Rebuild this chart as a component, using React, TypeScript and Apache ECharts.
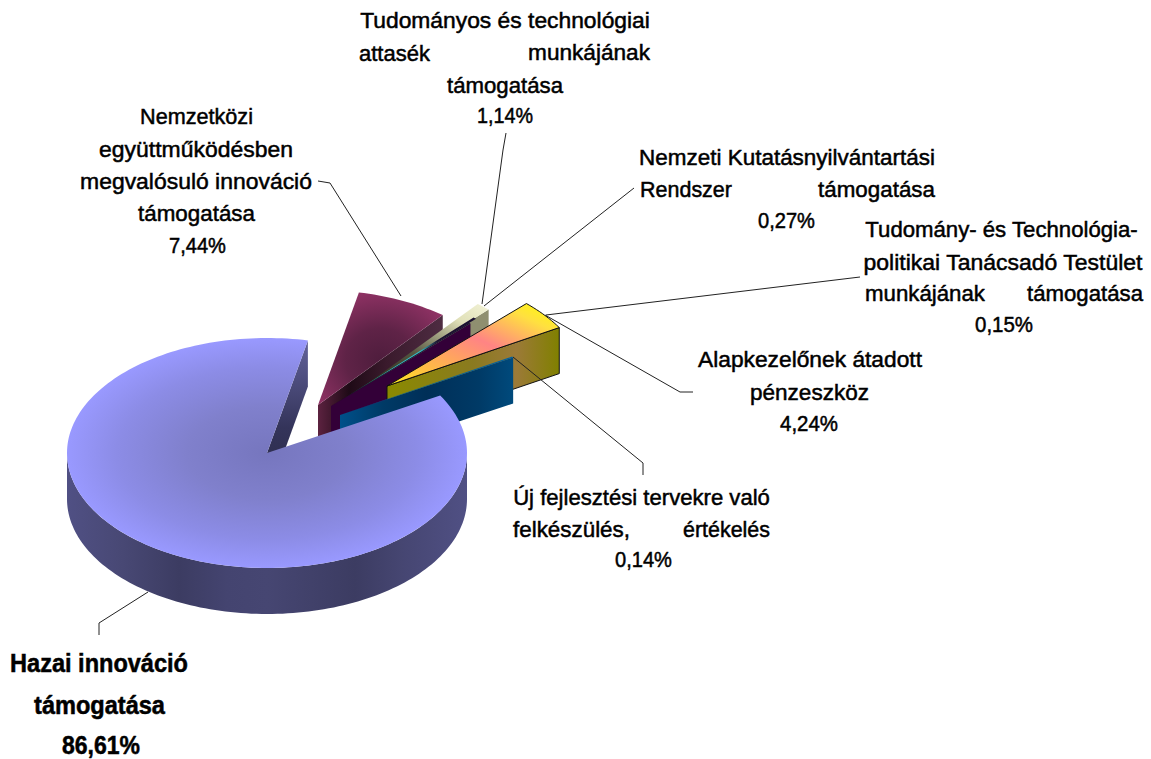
import React, { useEffect, useRef } from "react";
import * as echarts from "echarts";

const categories = [
  "Nemzetközi együttműködésben megvalósuló innováció támogatása",
  "Tudományos és technológiai attasék munkájának támogatása",
  "Nemzeti Kutatásnyilvántartási Rendszer támogatása",
  "Tudomány- és Technológia-politikai Tanácsadó Testület munkájának támogatása",
  "Alapkezelőnek átadott pénzeszköz",
  "Új fejlesztési tervekre való felkészülés, értékelés",
  "Hazai innováció támogatása",
];
const shares = [7.44, 1.14, 0.27, 0.15, 4.24, 0.14, 86.61];
const labelLines = [
  ["Nemzetközi", "együttműködésben", "megvalósuló innováció", "támogatása", "7,44%"],
  ["Tudományos és technológiai", "attasék munkájának", "támogatása", "1,14%"],
  ["Nemzeti Kutatásnyilvántartási", "Rendszer támogatása", "0,27%"],
  ["Tudomány- és Technológia-", "politikai Tanácsadó Testület", "munkájának támogatása", "0,15%"],
  ["Alapkezelőnek átadott", "pénzeszköz", "4,24%"],
  ["Új fejlesztési tervekre való", "felkészülés, értékelés", "0,14%"],
  ["Hazai innováció", "támogatása", "86,61%"],
];

// layout
const CX = 267, CY = 453, RX = 200, RY = 115, DEPTH = 46;
const START_DEG = 11.8;
const explode = [[51, -48], [86, -59], [71, -51], [64, -47], [120, -67], [73, -38], [0, 0]];

const lg = (x: number, y: number, x2: number, y2: number, stops: [number, string][]) => ({
  type: "linear", x, y, x2, y2, global: false,
  colorStops: stops.map(([offset, color]) => ({ offset, color })),
});
const rg = (x: number, y: number, r: number, stops: [number, string][]) => ({
  type: "radial", x, y, r, global: false,
  colorStops: stops.map(([offset, color]) => ({ offset, color })),
});

const topFill: any[] = [
  rg(0.5, 0.6, 0.62, [[0, "#4f1d3d"], [0.45, "#5f2347"], [1, "#8f3264"]]),
  lg(0, 1, 1, 0, [[0, "#1a1a10"], [0.45, "#55553f"], [0.8, "#e0e0b8"], [1, "#f2f2d6"]]),
  lg(0, 1, 1, 0, [[0, "#1a1a10"], [0.4, "#33bcc4"], [0.6, "#33bcc4"], [0.72, "#1a1030"], [1, "#1a1030"]]),
  "#1a1030",
  lg(0, 1, 1, 0, [[0, "#ffee22"], [0.2, "#ffc040"], [0.55, "#ff8484"], [0.82, "#ffe040"], [1, "#ffff00"]]),
  "#0060a0",
  rg(0.5, 0.5, 0.5, [[0, "#7676be"], [0.4, "#8080cc"], [0.75, "#8c8ce6"], [1, "#9999ff"]]),
];
const endWallFill: any[] = [
  lg(0, 0, 1, 0, [[0, "#5c2240"], [0.25, "#1e0a16"], [0.55, "#3a1a2c"], [1, "#4e2c42"]]),
  "#8f8f70",
  "none",
  "#330038",
  lg(0, 0, 1, 0, [[0, "#8a8a00"], [0.5, "#8a7a20"], [0.75, "#9c7a38"], [1, "#808000"]]),
  lg(0, 0, 1, 0, [[0, "#00508a"], [0.25, "#003a66"], [0.5, "#002f58"], [0.8, "#003a66"], [1, "#004a7c"]]),
  "none",
];
const outlined = [false, false, false, false, true, false, false];

const total = shares.reduce((a, b) => a + b, 0);

function renderSlice(params: any, api: any) {
  const i = params.dataIndex;
  let before = 0;
  for (let k = 0; k < i; k++) before += shares[k];
  const value = api.value(0) as number;
  const a0 = START_DEG + (before / total) * 360;
  const a1 = a0 + (value / total) * 360;
  const [dx, dy] = explode[i];
  const cx = CX + dx, cy = CY + dy;
  const pt = (deg: number, depth = 0): number[] => {
    const r = (deg * Math.PI) / 180;
    return [cx + RX * Math.sin(r), cy - RY * Math.cos(r) + depth];
  };
  const arc = (from: number, to: number, depth = 0) => {
    const out: number[][] = [];
    const n = Math.max(2, Math.ceil((to - from) / 1.5));
    for (let k = 0; k <= n; k++) out.push(pt(from + ((to - from) * k) / n, depth));
    return out;
  };
  const children: any[] = [];
  const isMain = value > 50;
  const stroke = outlined[i] ? { stroke: "#111", lineWidth: 1 } : { lineWidth: 0 };
  const e = pt(a1);
  if (isMain) {
    // inner face at the end of the big slice, visible through the gap
    children.push({
      type: "polygon",
      shape: { points: [[cx, cy], e, [e[0], e[1] + DEPTH], [cx, cy + DEPTH]] },
      style: { fill: lg(0, 0, 0, 1, [[0, "#62629a"], [0.55, "#34345a"], [0.85, "#2c2c4c"], [1, "#555588"]]) },
    });
    // outer rim
    const from = Math.max(a0, 90), to = Math.min(a1, 270);
    children.push({
      type: "polygon",
      shape: { points: [...arc(from, to), ...arc(from, to, DEPTH).reverse()] },
      style: {
        fill: lg(0, 0, 1, 0, [[0, "#505084"], [0.14, "#484874"], [0.28, "#3c3c62"], [0.4, "#444470"], [0.5, "#464672"], [0.72, "#3c3c62"], [0.84, "#464672"], [1, "#505084"]]),
      },
    });
  } else if (endWallFill[i] !== "none") {
    // radial face at the clockwise end of a pulled-out slice
    children.push({
      type: "polygon",
      shape: { points: [[cx, cy], e, [e[0], e[1] + DEPTH], [cx, cy + DEPTH]] },
      style: { fill: endWallFill[i], ...stroke },
    });
  }
  children.push({
    type: "polygon",
    shape: { points: [[cx, cy], ...arc(a0, a1)] },
    style: { fill: topFill[i], ...stroke },
  });
  return { type: "group", children };
}

// y, then left/right ink bounds for each word group of a text line
const lineBoxes: number[][][] = [
  [[116, 140, 253], [149, 99, 293], [181, 80, 312], [213, 138, 255], [246, 169, 226]],
  [[20, 360, 650], [53, 359, 430, 528, 650], [85, 447, 563], [115, 477, 533]],
  [[157, 639, 935], [189, 640, 732, 818, 935], [221, 758, 815]],
  [[229, 865, 1138], [262, 863, 1143], [293, 865, 985, 1027, 1143], [325, 975, 1033]],
  [[360, 698, 922], [393, 750, 869], [424, 780, 838]],
  [[497, 513, 770], [529, 513, 630, 683, 770], [560, 615, 672]],
  [[663, 10, 188], [705, 34, 165], [745, 62, 140]],
];
const leaders: number[][][] = [
  [[318, 181], [330, 183], [401, 296]],
  [[506, 133], [503, 150], [482, 304]],
  [[634, 188], [484, 306]],
  [[860, 277], [546, 315]],
  [[693, 392], [680, 392], [545, 315]],
  [[643, 475], [643, 463], [513, 357]],
  [[99, 635], [99, 623], [148, 592]],
];

const measure = (() => {
  const ctx = document.createElement("canvas").getContext("2d")!;
  return (text: string, font: string) => {
    ctx.font = font;
    return ctx.measureText(text).width;
  };
})();

function buildGraphics() {
  const els: any[] = [];
  leaders.forEach((points) =>
    els.push({ type: "polyline", z: 5, shape: { points }, style: { stroke: "#222", lineWidth: 1, fill: "none" } })
  );
  labelLines.forEach((lines, li) => {
    const bold = li === 6;
    const font = `${bold ? "bold 25px" : "22.5px"} "Liberation Sans", Arial, sans-serif`;
    lines.forEach((line, k) => {
      const [y, ...bounds] = lineBoxes[li][k];
      const groups = bounds.length === 4 ? line.split(" ") : [line];
      groups.forEach((text, g) => {
        const l = bounds[g * 2], r = bounds[g * 2 + 1];
        els.push({
          type: "text",
          z: 6,
          x: (l + r) / 2,
          y,
          scaleX: (r - l) / measure(text, font),
          style: { text, font, fill: "#000", stroke: "#000", lineWidth: 0.5, align: "center", verticalAlign: "middle" },
        });
      });
    });
  });
  return els;
}

export default function App() {
  const ref = useRef<HTMLDivElement>(null);
  useEffect(() => {
    document.body.style.margin = "0";
    const chart = echarts.init(ref.current!, undefined, { renderer: "svg" });
    chart.setOption({
      animation: false,
      backgroundColor: "#ffffff",
      series: [
        {
          type: "custom",
          coordinateSystem: "none",
          silent: true,
          renderItem: renderSlice,
          data: shares.map((v, i) => ({ name: categories[i], value: [v] })),
        },
      ],
      graphic: { elements: buildGraphics() },
    });
    return () => chart.dispose();
  }, []);
  return <div ref={ref} style={{ width: 1151, height: 759 }} />;
}
